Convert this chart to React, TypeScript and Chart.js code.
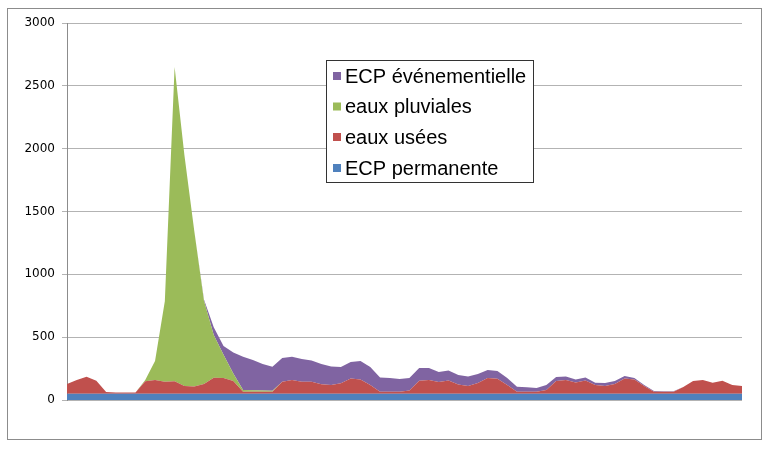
import React, { useEffect, useRef } from 'react';
import { Chart, registerables } from 'chart.js';

Chart.register(...registerables);

const ecpPermanente = [
  50, 50, 50, 50, 50, 50, 50, 50, 50, 50,
  50, 50, 50, 50, 50, 50, 50, 50, 50, 50,
  50, 50, 50, 50, 50, 50, 50, 50, 50, 50,
  50, 50, 50, 50, 50, 50, 50, 50, 50, 50,
  50, 50, 50, 50, 50, 50, 50, 50, 50, 50,
  50, 50, 50, 50, 50, 50, 50, 50, 50, 50,
  50, 50, 50, 50, 50, 50, 50, 50, 50, 50,
];

const eauxUsees = [
  77, 110, 135, 104, 14, 10, 10, 10, 100, 110,
  96, 100, 61, 57, 77, 128, 125, 101, 16, 16,
  16, 16, 96, 110, 96, 96, 75, 69, 83, 122,
  114, 70, 16, 16, 16, 25, 103, 110, 93, 105,
  73, 61, 85, 125, 120, 69, 16, 16, 16, 30,
  101, 110, 89, 105, 69, 61, 77, 121, 113, 61,
  16, 16, 16, 53, 101, 110, 88, 104, 69, 61,
];

const eauxPluviales = [
  0, 0, 0, 0, 0, 0, 0, 0, 10, 150,
  640, 2500, 1839, 1243, 663, 340, 185, 59, 14, 12,
  10, 8, 0, 0, 0, 0, 0, 0, 0, 0,
  0, 0, 0, 0, 0, 0, 0, 0, 0, 0,
  0, 0, 0, 0, 0, 0, 0, 0, 0, 0,
  0, 0, 0, 0, 0, 0, 0, 0, 0, 0,
  0, 0, 0, 0, 0, 0, 0, 0, 0, 0,
];

const ecpEvenementielle = [
  0, 0, 0, 0, 0, 0, 0, 0, 0, 0,
  0, 0, 0, 0, 10, 60, 70, 168, 265, 240,
  211, 191, 188, 185, 180, 168, 162, 148, 130, 130,
  146, 143, 113, 109, 101, 100, 102, 95, 80, 80,
  76, 76, 72, 64, 61, 56, 40, 35, 30, 39,
  32, 27, 24, 24, 19, 24, 24, 20, 12, 8,
  6, 4, 3, 0, 0, 0, 0, 0, 0, 0,
];

const categories = ecpPermanente.map((_, i) => String(i + 1));

const yTicks = [0, 500, 1000, 1500, 2000, 2500, 3000];

const seriesNames = ['ECP permanente', 'eaux usées', 'eaux pluviales', 'ECP événementielle'];
const seriesColors = ['#4F81BD', '#C0504D', '#9BBB59', '#8064A2'];

const framePlugin = {
  id: 'frame',
  beforeDraw(chart: any) {
    const ctx = chart.ctx;
    ctx.save();
    ctx.fillStyle = '#ffffff';
    ctx.fillRect(0, 0, chart.width, chart.height);
    ctx.restore();
  },
  afterDraw(chart: any) {
    const ctx = chart.ctx;
    ctx.save();
    // outer frame
    ctx.strokeStyle = '#8c8c8c';
    ctx.lineWidth = 1;
    ctx.strokeRect(7.5, 8.5, 754, 431);
    // legend
    const lx = 326.5, ly = 60.5, lw = 207, lh = 122;
    ctx.fillStyle = '#ffffff';
    ctx.fillRect(lx, ly, lw, lh);
    ctx.strokeStyle = '#333333';
    ctx.strokeRect(lx, ly, lw, lh);
    const ds = chart.data.datasets;
    const rows = [76, 106.5, 137, 168];
    ctx.font = '20px "Liberation Sans", Arial, sans-serif';
    ctx.textBaseline = 'middle';
    ctx.textAlign = 'left';
    for (let k = 0; k < ds.length; k++) {
      const d = ds[ds.length - 1 - k];
      const y = rows[k];
      ctx.fillStyle = d.backgroundColor;
      ctx.fillRect(333, y - 4, 8, 8);
      ctx.fillStyle = '#000000';
      ctx.fillText(d.label, 345, y + 1);
    }
    ctx.restore();
  },
};

export default function App() {
  const ref = useRef<HTMLCanvasElement | null>(null);

  useEffect(() => {
    document.body.style.margin = '0';
    const canvas = ref.current;
    if (!canvas) return;
    const values = [ecpPermanente, eauxUsees, eauxPluviales, ecpEvenementielle];
    const chart = new Chart(canvas, {
      type: 'line',
      data: {
        labels: categories,
        datasets: values.map((v, i) => ({
          label: seriesNames[i],
          data: v,
          backgroundColor: seriesColors[i],
          borderColor: seriesColors[i],
          borderWidth: 0,
          pointRadius: 0,
          tension: 0,
          fill: i === 0 ? 'origin' : '-1',
        })),
      },
      options: {
        animation: false,
        responsive: false,
        maintainAspectRatio: false,
        events: [],
        layout: { padding: { left: 0, right: 27, top: 23, bottom: 51 } },
        plugins: {
          legend: { display: false },
          tooltip: { enabled: false },
        },
        scales: {
          x: {
            display: false,
            offset: false,
            stacked: true,
          },
          y: {
            stacked: true,
            min: 0,
            max: 3000,
            afterBuildTicks: (scale: any) => {
              scale.ticks = yTicks.map((v) => ({ value: v }));
            },
            afterFit: (scale: any) => {
              scale.width = 67;
            },
            grid: {
              color: '#b3b3b3',
              lineWidth: 1,
              tickLength: 5,
              drawTicks: true,
            },
            border: { display: true, color: '#8c8c8c' },
            ticks: {
              color: '#000000',
              padding: 7,
              callback: (v: any) => String(v),
              font: { family: '"DejaVu Sans", Verdana, sans-serif', size: 12 },
            },
          },
        },
      },
      plugins: [framePlugin],
    });
    return () => chart.destroy();
  }, []);

  return (
    <div style={{ width: 769, height: 451, position: 'relative' }}>
      <canvas ref={ref} width={769} height={451} style={{ display: 'block' }} />
    </div>
  );
}
